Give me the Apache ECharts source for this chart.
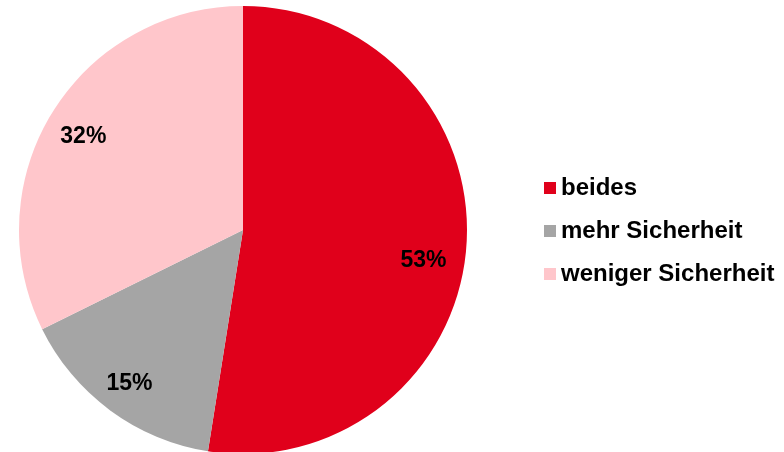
<!DOCTYPE html>
<html>
<head>
<meta charset="utf-8">
<script src="https://cdn.jsdelivr.net/npm/echarts@6/dist/echarts.min.js"></script>
<style>
  html, body { margin: 0; padding: 0; background: #fff; }
  #chart { width: 784px; height: 452px; }
</style>
</head>
<body>
<div id="chart"></div>
<script>
  let categories = ['beides', 'mehr Sicherheit', 'weniger Sicherheit']
  let values = [52.5, 15.2, 32.3]
  let colors = ['#E0001B', '#A5A5A5', '#FFC6CB']
  // small nudges so labels sit where the original puts them
  let labelOffsets = [[-7, 16], [-2, 2], [0, 6]]

  let myChart = echarts.init(document.getElementById('chart'))
  let font = 'Liberation Sans, Arial, sans-serif'
  let data = categories.map((name, i) => ({ name: name, value: values[i] }))
  let labelData = categories.map((name, i) => ({
    name: name,
    value: values[i],
    label: { offset: labelOffsets[i] }
  }))

  let option = {
    animation: false,
    color: colors,
    legend: {
      orient: 'vertical',
      left: 539,
      top: 170,
      icon: 'rect',
      itemWidth: 12,
      itemHeight: 12,
      itemGap: 17,
      data: categories,
      textStyle: { fontFamily: font, fontWeight: 'bold', fontSize: 24, color: '#000', lineHeight: 26 }
    },
    series: [
      {
        type: 'pie',
        center: [243, 230],
        radius: [0, 224],
        startAngle: 90,
        clockwise: true,
        silent: true,
        label: { show: false },
        labelLine: { show: false },
        data: data
      },
      {
        // transparent overlay only to place the percent labels further out
        type: 'pie',
        center: [243, 230],
        radius: [0, 370],
        startAngle: 90,
        clockwise: true,
        silent: true,
        itemStyle: { color: 'rgba(0,0,0,0)' },
        label: {
          show: true,
          position: 'inside',
          formatter: p => Math.round(p.value) + '%',
          fontFamily: font,
          fontWeight: 'bold',
          fontSize: 23,
          color: '#000'
        },
        labelLine: { show: false },
        data: labelData
      }
    ]
  }
  myChart.setOption(option)
</script>
</body>
</html>
